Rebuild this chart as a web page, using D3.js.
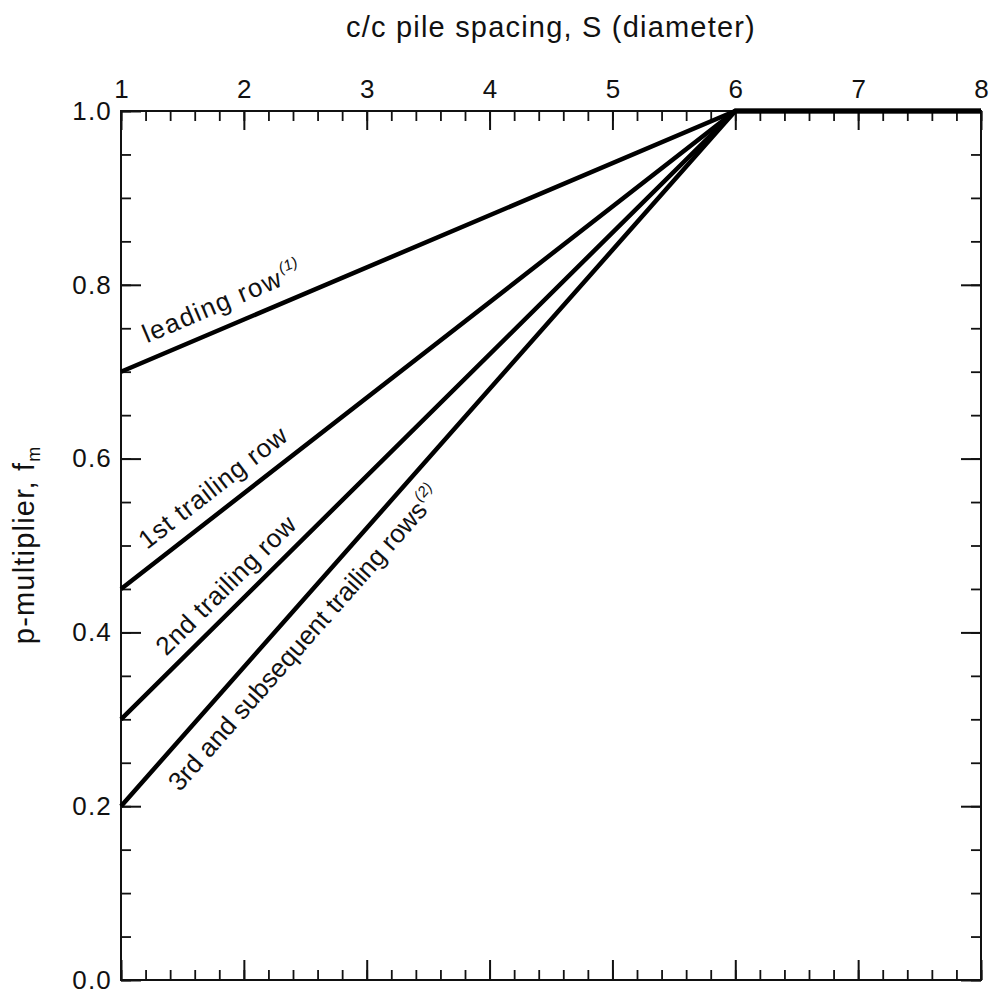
<!DOCTYPE html>
<html>
<head>
<meta charset="utf-8">
<script src="https://cdn.jsdelivr.net/npm/d3@7"></script>
<style>
  html, body { margin: 0; padding: 0; background: #fff; }
  svg { display: block; font-family: "Liberation Sans", Arial, Helvetica, sans-serif; }
</style>
</head>
<body>
<svg id="chart" width="990" height="996"></svg>
<script>
// ---- data ----
const spacingS = [1, 6, 8];                 // c/c pile spacing (diameters)
const leadingRow = [0.7, 1.0, 1.0];
const trailingRow1 = [0.45, 1.0, 1.0];
const trailingRow2 = [0.3, 1.0, 1.0];
const trailingRow3 = [0.2, 1.0, 1.0];
const seriesNames = ["leading row", "1st trailing row", "2nd trailing row", "3rd and subsequent trailing rows"];
const seriesNotes = ["(1)", "", "", "(2)"];
const xMajorTicks = [1, 2, 3, 4, 5, 6, 7, 8];
const yMajorTicks = [0.0, 0.2, 0.4, 0.6, 0.8, 1.0];
const xTitle = "c/c pile spacing, S (diameter)";
const yTitle = "p-multiplier, f";
const yTitleSub = "m";

// ---- layout ----
const svg = d3.select("#chart");
const X0 = 121, X1 = 981, Y0 = 980, Y1 = 111;
const x = d3.scaleLinear().domain([1, 8]).range([X0, X1]);
const y = d3.scaleLinear().domain([0, 1]).range([Y0, Y1]);

const xMinor = d3.range(0, 36).map(i => +(1 + i * 0.2).toFixed(2)).filter(v => v <= 8);
const yMinor = d3.range(0, 21).map(i => +(i * 0.05).toFixed(2));

const tickColor = "#111";
const FONT = "Liberation Sans, Arial, Helvetica, sans-serif";
function styleAxis(g, width) {
  g.select(".domain").remove();
  g.selectAll(".tick line").attr("stroke", tickColor).attr("stroke-width", width);
}

// top axis: major with labels, minor
const gTopMinor = svg.append("g").attr("transform", `translate(0,${Y1})`)
  .call(d3.axisTop(x).tickValues(xMinor).tickSize(-10).tickFormat(""));
styleAxis(gTopMinor, 1.8);
const gTop = svg.append("g").attr("transform", `translate(0,${Y1})`)
  .call(d3.axisTop(x).tickValues(xMajorTicks).tickSize(-19).tickPadding(13).tickFormat(d3.format("d")));
styleAxis(gTop, 2);
gTop.selectAll(".tick text").attr("font-size", 26).attr("fill", "#111").attr("font-family", FONT);

// bottom axis ticks (inward, no labels)
const gBotMinor = svg.append("g").attr("transform", `translate(0,${Y0})`)
  .call(d3.axisBottom(x).tickValues(xMinor).tickSize(-10).tickFormat(""));
styleAxis(gBotMinor, 1.8);
const gBot = svg.append("g").attr("transform", `translate(0,${Y0})`)
  .call(d3.axisBottom(x).tickValues(xMajorTicks).tickSize(-20).tickFormat(""));
styleAxis(gBot, 2);

// left axis
const gLeftMinor = svg.append("g").attr("transform", `translate(${X0},0)`)
  .call(d3.axisLeft(y).tickValues(yMinor).tickSize(-10).tickFormat(""));
styleAxis(gLeftMinor, 1.8);
const gLeft = svg.append("g").attr("transform", `translate(${X0},0)`)
  .call(d3.axisLeft(y).tickValues(yMajorTicks).tickSize(-20).tickPadding(9).tickFormat(d3.format(".1f")));
styleAxis(gLeft, 2);
gLeft.selectAll(".tick text").attr("font-size", 26).attr("fill", "#111")
  .attr("letter-spacing", "1.2px").attr("font-family", FONT);

// right axis ticks (inward)
const gRightMinor = svg.append("g").attr("transform", `translate(${X1},0)`)
  .call(d3.axisRight(y).tickValues(yMinor).tickSize(-10).tickFormat(""));
styleAxis(gRightMinor, 1.8);
const gRight = svg.append("g").attr("transform", `translate(${X1},0)`)
  .call(d3.axisRight(y).tickValues(yMajorTicks).tickSize(-20).tickFormat(""));
styleAxis(gRight, 2);

// frame
svg.append("rect")
  .attr("x", X0).attr("y", Y1).attr("width", X1 - X0).attr("height", Y0 - Y1)
  .attr("fill", "none").attr("stroke", tickColor).attr("stroke-width", 2);

// series lines
const allSeries = [leadingRow, trailingRow1, trailingRow2, trailingRow3];
const line = d3.line().x((d, i) => x(spacingS[i])).y(d => y(d));
svg.selectAll("path.series").data(allSeries).enter().append("path")
  .attr("class", "series")
  .attr("d", d => line(d))
  .attr("fill", "none").attr("stroke", "#000").attr("stroke-width", 4.5)
  .attr("stroke-linejoin", "miter").attr("stroke-linecap", "butt");

// series labels placed along the lines: [S position along line, perpendicular offset, letter spacing]
const labelPlacement = [[1.263, 16, 1.5], [1.286, 14.8, 0.85], [1.44, 12.6, 0.6], [1.265, -35, 0]];
allSeries.forEach((vals, k) => {
  const [s0, off, ls] = labelPlacement[k];
  const xa = x(spacingS[0]), ya = y(vals[0]);
  const xb = x(spacingS[1]), yb = y(vals[1]);
  const ang = Math.atan2(yb - ya, xb - xa) * 180 / Math.PI;
  const t = (s0 - spacingS[0]) / (spacingS[1] - spacingS[0]);
  const px = x(s0), py = ya + (yb - ya) * t;
  const g = svg.append("g").attr("transform", `translate(${px},${py}) rotate(${ang})`);
  const txt = g.append("text").attr("x", 0).attr("y", -off)
    .attr("font-size", 26).attr("letter-spacing", ls + "px").attr("fill", "#111");
  txt.append("tspan").text(seriesNames[k]);
  if (seriesNotes[k]) {
    txt.append("tspan").attr("dy", -12).attr("dx", 1).attr("font-size", 15)
      .attr("font-style", "italic").attr("letter-spacing", "0.5px").text(seriesNotes[k]);
  }
});

// axis titles
svg.append("text")
  .attr("x", (X0 + X1) / 2).attr("y", 37)
  .attr("text-anchor", "middle").attr("font-size", 29).attr("letter-spacing", "1.2px")
  .attr("fill", "#111").text(xTitle);

const yt = svg.append("text")
  .attr("transform", `translate(34,${(Y0 + Y1) / 2}) rotate(-90)`)
  .attr("text-anchor", "middle").attr("font-size", 29).attr("letter-spacing", "1.2px")
  .attr("fill", "#111");
yt.append("tspan").text(yTitle);
yt.append("tspan").attr("dy", 6).attr("font-size", 18).attr("letter-spacing", "0px").text(yTitleSub);
</script>
</body>
</html>
